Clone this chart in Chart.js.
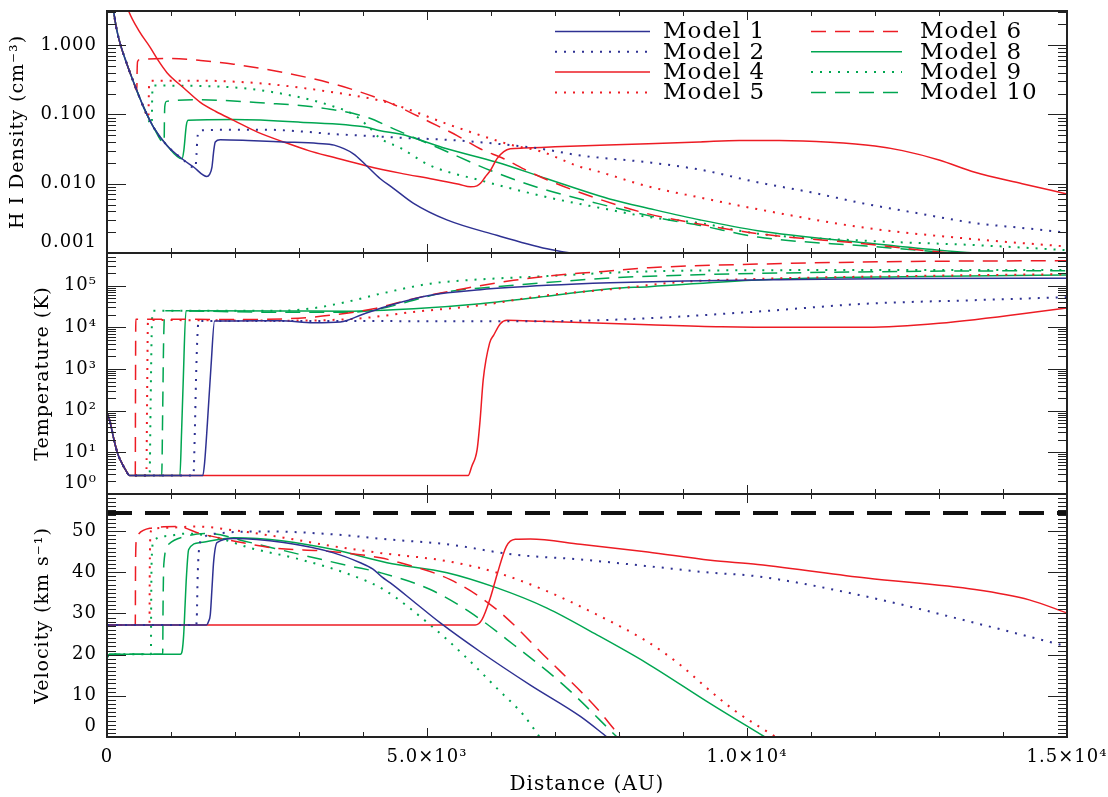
<!DOCTYPE html>
<html>
<head>
<meta charset="utf-8">
<script src="https://cdn.jsdelivr.net/npm/chart.js@4.4.0/dist/chart.umd.min.js"></script>
<style>
  html, body { margin: 0; padding: 0; background: #fff; }
  #wrap { position: relative; width: 1108px; height: 797px; }
  canvas { position: absolute; left: 0; top: 0; }
</style>
</head>
<body>
<div id="wrap">
  <canvas id="densChart" width="1108" height="797"></canvas>
  <canvas id="tempChart" width="1108" height="797"></canvas>
  <canvas id="velChart" width="1108" height="797"></canvas>
</div>
<script>
// axis ticks and labels
const distTicks = [0, 5000, 10000, 15000];
const distLabels = ['0', '5.0×10³', '1.0×10⁴', '1.5×10⁴'];
const densTicks = [0.001, 0.01, 0.1, 1];
const densLabels = ['0.001', '0.010', '0.100', '1.000'];
const tempTicks = [1, 10, 100, 1000, 10000, 100000];
const tempLabels = ['10⁰', '10¹', '10²', '10³', '10⁴', '10⁵'];
const velTicks = [0, 10, 20, 30, 40, 50];
const velLabels = ['0', '10', '20', '30', '40', '50'];

const modelNames = ['Model 1', 'Model 2', 'Model 4', 'Model 5', 'Model 6', 'Model 8', 'Model 9', 'Model 10'];

// H I density [distance AU, cm^-3]
const dens1 = [[60,6],[103,3.1],[150,1.7],[208,1.03],[312,0.53],[416,0.29],[572,0.127],[728,0.065],[937,0.0356],[1172,0.0229],[1353,0.0174],[1560,0.0127],[1600,0.0135],[1640,0.0174],[1668,0.030],[1692,0.040],[1770,0.043],[2200,0.042],[2750,0.040],[3300,0.038],[3550,0.036],[3850,0.027],[4060,0.018],[4270,0.0118],[4480,0.0085],[4790,0.0052],[5310,0.0030],[6090,0.0018],[6875,0.00115],[7300,0.00098],[7700,0.0009]];
const dens2 = [[60,6],[103,3.1],[150,1.7],[208,1.03],[312,0.53],[416,0.29],[572,0.127],[728,0.065],[937,0.0356],[1172,0.0229],[1380,0.0168],[1398,0.026],[1412,0.045],[1440,0.057],[1500,0.059],[2000,0.060],[2500,0.060],[3000,0.057],[3540,0.052],[4060,0.049],[4580,0.046],[5300,0.043],[5830,0.0397],[6350,0.0356],[6770,0.032],[7400,0.0255],[8440,0.0204],[9270,0.0159],[10160,0.0105],[11000,0.0075],[11860,0.0051],[12700,0.0037],[13560,0.0027],[14300,0.0023],[15000,0.00197]];
const dens4 = [[200,7.8],[338,3.1],[500,1.6],[677,0.92],[800,0.6],[937,0.40],[1200,0.24],[1458,0.149],[1700,0.11],[1979,0.082],[2360,0.055],[2760,0.040],[3150,0.030],[3540,0.024],[4060,0.018],[4580,0.0142],[5100,0.0116],[5500,0.0098],[5680,0.0090],[5780,0.0093],[5840,0.0102],[5910,0.0125],[5990,0.0155],[6094,0.023],[6200,0.029],[6300,0.0318],[6510,0.0326],[7000,0.034],[8460,0.0376],[9270,0.040],[9880,0.042],[10500,0.042],[11300,0.0397],[12000,0.035],[12430,0.030],[13000,0.022],[13560,0.0146],[14300,0.0100],[15000,0.0071]];
const dens5 = [[60,6],[103,3.1],[150,1.7],[208,1.03],[312,0.53],[416,0.29],[572,0.127],[648,0.09],[652,0.16],[660,0.28],[690,0.306],[1460,0.306],[2500,0.275],[3540,0.208],[4270,0.158],[4530,0.135],[5310,0.073],[5830,0.05],[6350,0.0356],[6770,0.0294],[7400,0.0174],[7620,0.0155],[8440,0.0092],[9270,0.0063],[10160,0.0043],[11860,0.0023],[13560,0.00158],[15000,0.00124]];
const dens6 = [[60,6],[103,3.1],[150,1.7],[208,1.03],[312,0.53],[416,0.29],[466,0.22],[470,0.4],[478,0.58],[520,0.62],[940,0.64],[1460,0.6],[1980,0.53],[2760,0.40],[3540,0.275],[4400,0.149],[5050,0.077],[5470,0.0495],[5830,0.0319],[6200,0.0229],[6560,0.0155],[6875,0.0114],[7660,0.0061],[8440,0.0037],[9270,0.0026],[10170,0.0019],[11860,0.00135],[13160,0.001],[14000,0.00088]];
const dens8 = [[60,6],[103,3.1],[150,1.7],[208,1.03],[312,0.53],[416,0.29],[572,0.127],[728,0.065],[937,0.0356],[1172,0.0229],[1200,0.030],[1240,0.070],[1270,0.082],[1980,0.084],[3020,0.077],[4060,0.065],[4270,0.058],[4580,0.052],[5310,0.0319],[6094,0.0204],[6875,0.0118],[7917,0.0058],[8464,0.0044],[9270,0.0030],[10167,0.0021],[11865,0.0014],[13000,0.0011],[13600,0.001],[14500,0.0009]];
const dens9 = [[60,6],[103,3.1],[150,1.7],[208,1.03],[312,0.53],[416,0.29],[572,0.127],[700,0.072],[704,0.14],[712,0.24],[740,0.26],[1980,0.245],[3020,0.176],[3540,0.13],[3850,0.10],[4060,0.07],[4270,0.045],[4580,0.033],[5050,0.0183],[5830,0.0112],[6875,0.0064],[7917,0.0041],[8464,0.0033],[9270,0.0027],[10167,0.0019],[11865,0.0015],[13560,0.0013],[15000,0.0011]];
const dens10 = [[60,6],[103,3.1],[150,1.7],[208,1.03],[312,0.53],[416,0.29],[572,0.127],[728,0.065],[893,0.039],[897,0.08],[903,0.13],[930,0.154],[1460,0.162],[2500,0.145],[3280,0.126],[4060,0.091],[4480,0.0618],[5210,0.0319],[5990,0.0155],[6720,0.0089],[7660,0.0052],[8700,0.0031],[9270,0.0025],[10170,0.0017],[11865,0.00126],[13275,0.001],[14500,0.0009]];

// temperature [distance AU, K]
const temp1 = [[0,85],[40,60],[80,32],[120,17],[170,9],[230,5.6],[290,3.8],[353,2.77],[1497,2.77],[1525,5.6],[1569,51],[1625,1150],[1681,14300],[2000,14200],[2708,14500],[3229,13000],[3646,13500],[4010,21000],[4427,34000],[5052,59000],[5833,80000],[6875,102000],[7864,118000],[9035,130000],[10500,140000],[12430,150000],[15000,152000]];
const temp2 = [[0,85],[40,60],[80,32],[120,17],[170,9],[230,5.6],[290,3.8],[353,2.77],[1350,2.77],[1372,30],[1390,500],[1410,5000],[1432,14300],[3000,14200],[5000,14100],[6770,14000],[8469,16600],[10165,24000],[11865,37000],[13560,45000],[15000,53000]];
const temp4 = [[0,85],[40,60],[80,32],[120,17],[170,9],[230,5.6],[290,3.8],[353,2.77],[5643,2.77],[5699,4.6],[5783,11.6],[5830,60],[5878,550],[5978,4200],[6042,6500],[6146,12300],[6250,14800],[6770,14000],[8469,11500],[9600,10300],[10733,10000],[11865,10000],[13000,12500],[15000,29000]];
const temp5 = [[0,85],[40,60],[80,32],[120,17],[170,9],[230,5.6],[290,3.8],[353,2.77],[615,2.77],[625,100],[640,14000],[660,15000],[2700,14500],[3906,16200],[4791,23500],[5833,34000],[6875,59000],[7864,82000],[9035,125000],[10500,150000],[12430,170000],[15000,190000]];
const temp6 = [[0,85],[40,60],[80,32],[120,17],[170,9],[230,5.6],[290,3.8],[353,2.77],[442,2.77],[445,200],[450,15700],[2000,15500],[2864,16200],[3490,19500],[4167,28000],[4791,49000],[5573,85000],[6354,135000],[7291,195000],[7760,220000],[8469,270000],[10165,330000],[12430,380000],[15000,400000]];
const temp8 = [[0,85],[40,60],[80,32],[120,17],[170,9],[230,5.6],[290,3.8],[353,2.77],[1139,2.77],[1165,30],[1190,460],[1234,25000],[2708,24800],[3750,24500],[4791,28000],[5833,37000],[6875,56000],[7864,85000],[8469,95000],[10165,138000],[12430,165000],[15000,180000]];
const temp9 = [[0,85],[40,60],[80,32],[120,17],[170,9],[230,5.6],[290,3.8],[353,2.77],[666,2.77],[680,100],[700,10000],[720,25000],[2708,25000],[3229,29000],[3750,41000],[4271,64000],[5052,112000],[5833,142000],[6875,170000],[7864,205000],[9035,230000],[12000,238000],[15000,240000]];
const temp10 = [[0,85],[40,60],[80,32],[120,17],[170,9],[230,5.6],[290,3.8],[353,2.77],[855,2.77],[870,100],[885,5000],[905,25000],[2708,23000],[3750,23000],[4271,28000],[4791,45000],[5313,71000],[6354,102000],[7864,153000],[9035,180000],[12430,220000],[15000,230000]];

// velocity [distance AU, km/s]
const vel1 = [[0,27.2],[1552,27.2],[1585,28],[1614,29.7],[1640,36],[1667,42.7],[1719,47.2],[1979,48.2],[2760,47.2],[3541,44.7],[3958,42.3],[4150,40.8],[4300,38.8],[4427,37.4],[4791,32.9],[5208,27.7],[5833,20.7],[6615,12.6],[7396,5.0],[7813,0]];
const vel2 = [[0,27.2],[1395,27.2],[1405,30],[1415,38],[1435,45],[1484,48.0],[1719,49.4],[2500,49.9],[3541,49.2],[4375,48.0],[5313,46.8],[6354,44.3],[7396,43.1],[8438,41.5],[9427,39.9],[10167,39.0],[11865,34.1],[13563,27.7],[15000,22.0]];
const vel4 = [[0,27.2],[5755,27.2],[5859,28.5],[5990,33.8],[6094,39.4],[6240,46.3],[6380,48.0],[6615,48.1],[7396,46.8],[8450,44.9],[9427,42.9],[10167,41.9],[11865,38.6],[13563,35.8],[14410,33.3],[15000,30.1]];
const vel5 = [[0,27.2],[664,27.2],[668,40],[676,48.5],[700,50.4],[937,50.8],[1406,51.1],[1979,50.2],[2760,48.4],[3541,46.3],[4271,44.7],[5313,42.7],[6094,39.9],[6875,35.4],[7656,29.7],[8438,23.2],[8958,17.5],[9349,12.2],[9800,6.5],[10450,0]];
const vel6 = [[0,27.2],[442,27.2],[446,42],[460,48],[494,49.3],[677,50.7],[1094,51.1],[1458,49.4],[1979,47.6],[2604,45.9],[3438,45.1],[4271,43.5],[4583,42.3],[5365,38.2],[6094,30.9],[6875,19.1],[7656,6.9],[8020,0]];
const vel8 = [[0,19.3],[40,20.1],[1146,20.1],[1175,21],[1198,24.8],[1220,32],[1240,38.6],[1276,45.5],[1458,47.2],[1979,48.4],[2760,47.6],[3541,45.5],[4375,42.3],[5313,39.9],[6094,36.2],[6875,31.3],[7656,24.8],[8438,17.9],[9427,8.1],[10280,0]];
const vel9 = [[0,19.3],[40,20.1],[686,20.1],[690,32],[698,43],[729,47.6],[937,48.8],[1250,49.4],[1719,48.4],[2240,45.9],[3021,43.1],[3802,39.4],[4323,35.8],[5052,27.2],[5573,19.9],[6094,11.8],[6510,5.3],[6760,0]];
const vel10 = [[0,19.3],[40,20.1],[870,20.1],[876,32],[888,42],[963,46.8],[1250,48.8],[1614,49.4],[2135,47.6],[3021,44.3],[3802,41.5],[4271,39.9],[5052,35.8],[5729,29.7],[6354,22.4],[7135,12.6],[7969,0]];
const refSpeed = 54.4;

// styles
const FONT = '"DejaVu Serif", serif';
const BLUE = '#2e3192', RED = '#ed1c24', GREEN = '#00a651';
const lineColors = [BLUE, BLUE, RED, RED, RED, GREEN, GREEN, GREEN];
const lineDashes = [[], [2, 7], [], [2, 7], [15, 9], [], [2, 7], [15, 9]];

function modelSets(series) {
  return series.map((pts, i) => ({
    label: modelNames[i],
    data: pts,
    borderColor: lineColors[i],
    borderDash: lineDashes[i],
    borderWidth: lineDashes[i][0] === 2 ? 2 : 1.5,
    pointRadius: 0,
    cubicInterpolationMode: 'monotone',
    fill: false
  }));
}

function xAxis(show) {
  return {
    type: 'linear', min: 0, max: 15000, display: show,
    afterBuildTicks: s => { s.ticks = distTicks.map(v => ({ value: v })); },
    afterFit: s => {
      if (show) s.height = 60;
      s.paddingLeft = 0; s.paddingRight = 0;
    },
    grid: { display: false, drawTicks: false },
    border: { display: false },
    ticks: {
      autoSkip: false, maxRotation: 0, padding: 10, color: '#000',
      font: { family: FONT, size: 18 },
      callback: (v, i) => distLabels[i]
    },
    title: { display: true, text: 'Distance (AU)', color: '#000', font: { family: FONT, size: 20 }, padding: { top: 0, bottom: 0 } }
  };
}

function yAxis(type, min, max, ticks, labels, title, titlePad) {
  return {
    type: type, min: min, max: max,
    afterBuildTicks: s => { s.ticks = ticks.map(v => ({ value: v })); },
    afterFit: s => { s.width = 107; s.paddingTop = 0; s.paddingBottom = 0; },
    grid: { display: false, drawTicks: false },
    border: { display: false },
    ticks: {
      autoSkip: false, padding: 10, color: '#000',
      font: { family: FONT, size: 18 },
      callback: (v, i) => i === 0 ? [labels[0], ''] : labels[i]
    },
    title: { display: true, text: title, color: '#000', font: { family: FONT, size: 19 }, padding: { top: titlePad, bottom: 0 } }
  };
}

// inward tick marks and frame, IDL style
const frameTicks = {
  id: 'frameTicks',
  afterDatasetsDraw(chart, args, o) {
    const { ctx, chartArea: a } = chart;
    const xs = chart.scales.x, ys = chart.scales.y;
    ctx.save();
    ctx.setLineDash([]);
    ctx.strokeStyle = '#222';
    ctx.lineWidth = 1;
    const seg = (x1, y1, x2, y2) => { ctx.beginPath(); ctx.moveTo(x1, y1); ctx.lineTo(x2, y2); ctx.stroke(); };
    for (let v = 0; v <= 15000; v += 1000) {
      const px = Math.round(xs.getPixelForValue(v)) + 0.5;
      const len = v % 5000 === 0 ? 9 : 5;
      seg(px, a.top, px, a.top + len);
      seg(px, a.bottom, px, a.bottom - len);
    }
    const marks = [];
    if (o.marks === 'log') {
      for (let e = Math.floor(Math.log10(ys.min)); e <= Math.ceil(Math.log10(ys.max)); e++) {
        for (let k = 1; k < 10; k++) {
          const v = k * Math.pow(10, e);
          if (v >= ys.min * 0.999 && v <= ys.max) marks.push([v, k === 1]);
        }
      }
    } else {
      for (let v = 0; v <= ys.max; v++) marks.push([v, v % 10 === 0]);
    }
    marks.forEach(([v, major]) => {
      const py = Math.round(ys.getPixelForValue(v)) + 0.5;
      const len = major ? 19 : 9;
      seg(a.left, py, a.left + len, py);
      seg(a.right, py, a.right - len, py);
    });
    ctx.lineWidth = 2;
    ctx.strokeRect(a.left, a.top, a.right - a.left, a.bottom - a.top);
    ctx.restore();
  }
};

const spacing = {
  id: 'spacing',
  beforeLayout(c) { c.ctx.letterSpacing = '1px'; },
  beforeDraw(c) { c.ctx.letterSpacing = '1px'; }
};

// two-column key in the density panel
const keyX = [555, 811], keyLen = [95, 91], keyText = [663, 920];
const modelKey = {
  id: 'modelKey',
  afterDraw(chart) {
    const ctx = chart.ctx;
    ctx.save();
    ctx.font = '23px ' + FONT;
    ctx.fillStyle = '#000';
    ctx.textBaseline = 'middle';
    chart.data.datasets.forEach((ds, i) => {
      const col = Math.floor(i / 4), row = i % 4;
      const y = 31.5 + row * 20.3;
      ctx.strokeStyle = ds.borderColor;
      ctx.lineWidth = ds.borderWidth;
      ctx.setLineDash(ds.borderDash);
      ctx.beginPath();
      ctx.moveTo(keyX[col], y);
      ctx.lineTo(keyX[col] + keyLen[col], y);
      ctx.stroke();
      ctx.setLineDash([]);
      ctx.fillText(ds.label, keyText[col], y + 1);
    });
    ctx.restore();
  }
};

function baseOptions(pad, marks, scales) {
  return {
    responsive: false, animation: false, devicePixelRatio: 1,
    layout: { padding: pad },
    plugins: { legend: { display: false }, tooltip: { enabled: false }, frameTicks: { marks: marks } },
    scales: scales
  };
}

new Chart(document.getElementById('densChart'), {
  type: 'line',
  data: { datasets: modelSets([dens1, dens2, dens4, dens5, dens6, dens8, dens9, dens10]) },
  options: baseOptions({ left: 0, right: 41, top: 11, bottom: 544 }, 'log', {
    x: xAxis(false),
    y: yAxis('logarithmic', 0.001, 3.1, densTicks, densLabels, 'H I Density (cm⁻³)', 7)
  }),
  plugins: [spacing, frameTicks, modelKey]
});

new Chart(document.getElementById('tempChart'), {
  type: 'line',
  data: { datasets: modelSets([temp1, temp2, temp4, temp5, temp6, temp8, temp9, temp10]) },
  options: baseOptions({ left: 0, right: 41, top: 253, bottom: 303 }, 'log', {
    x: xAxis(false),
    y: yAxis('logarithmic', 1, 610000, tempTicks, tempLabels, 'Temperature (K)', 32)
  }),
  plugins: [spacing, frameTicks]
});

const velSets = modelSets([vel1, vel2, vel4, vel5, vel6, vel8, vel9, vel10]);
velSets.push({
  label: 'reference',
  data: [[0, refSpeed], [15000, refSpeed]],
  borderColor: '#111',
  borderDash: [25, 13],
  borderWidth: 4,
  pointRadius: 0,
  fill: false
});

new Chart(document.getElementById('velChart'), {
  type: 'line',
  data: { datasets: velSets },
  options: baseOptions({ left: 0, right: 41, top: 494, bottom: 0 }, 'lin', {
    x: xAxis(true),
    y: yAxis('linear', 0, 59, velTicks, velLabels, 'Velocity (km s⁻¹)', 32)
  }),
  plugins: [spacing, frameTicks]
});
</script>
</body>
</html>
